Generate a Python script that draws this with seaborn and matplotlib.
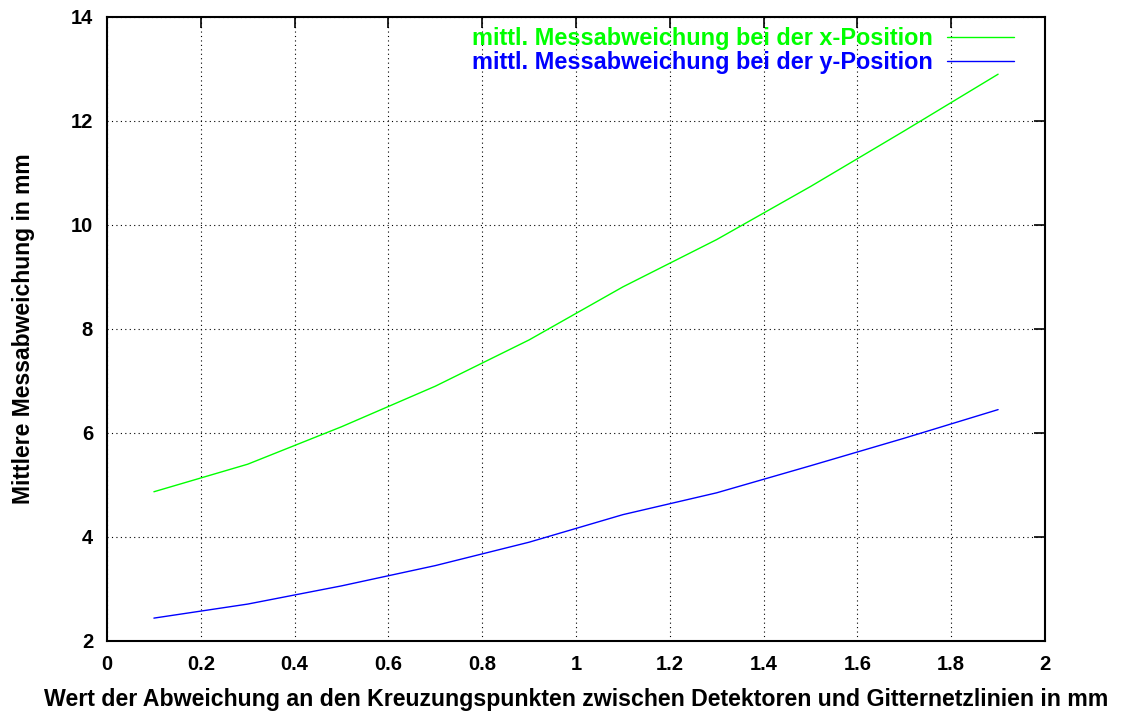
import matplotlib
matplotlib.use("Agg")
import matplotlib.pyplot as plt
import seaborn as sns
import pandas as pd

# Data
x_values = [0.1, 0.3, 0.5, 0.7, 0.9, 1.1, 1.3, 1.5, 1.7, 1.9]
x_position = [4.87, 5.40, 6.12, 6.90, 7.79, 8.81, 9.72, 10.74, 11.81, 12.90]
y_position = [2.44, 2.71, 3.06, 3.45, 3.90, 4.43, 4.85, 5.37, 5.90, 6.45]
series_names = ["mittl. Messabweichung bei der x-Position",
                "mittl. Messabweichung bei der y-Position"]
x_ticks = [0, 0.2, 0.4, 0.6, 0.8, 1, 1.2, 1.4, 1.6, 1.8, 2]
x_tick_labels = ["0", "0.2", "0.4", "0.6", "0.8", "1", "1.2", "1.4", "1.6", "1.8", "2"]
y_ticks = [2, 4, 6, 8, 10, 12, 14]
x_label = "Wert der Abweichung an den Kreuzungspunkten zwischen Detektoren und Gitternetzlinien in mm"
y_label = "Mittlere Messabweichung in mm"

sns.set_style("white")
plt.rcParams['font.family'] = ['Liberation Sans', 'DejaVu Sans']
plt.rcParams['font.weight'] = 'bold'
plt.rcParams['text.color'] = 'black'
plt.rcParams['axes.labelcolor'] = 'black'
plt.rcParams['xtick.color'] = 'black'
plt.rcParams['ytick.color'] = 'black'

df = pd.DataFrame({
    "x": x_values * 2,
    "y": x_position + y_position,
    "series": [series_names[0]] * len(x_values) + [series_names[1]] * len(x_values),
})

fig = plt.figure(figsize=(11.24, 7.13), dpi=100)
ax = fig.add_axes([107 / 1124, (713 - 641) / 713, (1045 - 107) / 1124, (641 - 17) / 713])

sns.lineplot(data=df, x="x", y="y", hue="series",
             palette={series_names[0]: "#00ff00", series_names[1]: "#0000ff"},
             linewidth=1.0, ax=ax)

ax.set_xlim(0, 2)
ax.set_ylim(2, 14)
ax.set_xticks(x_ticks)
ax.set_xticklabels(x_tick_labels)
ax.set_yticks(y_ticks)
ax.grid(True, color="black", linestyle=(0, (1, 3)), linewidth=0.8)
ax.tick_params(direction="in", length=8, width=1.2, top=True, right=True,
               labelsize=14.5, pad=10, colors="black")
for lab in ax.get_xticklabels() + ax.get_yticklabels():
    lab.set_fontweight("bold")
for sp in ax.spines.values():
    sp.set_color("black")
    sp.set_linewidth(1.5)

ax.set_xlabel(x_label, fontsize=16.7, fontweight="bold", labelpad=10, color="black")
ax.set_ylabel(y_label, fontsize=16.5, fontweight="bold", labelpad=26, color="black")

leg = ax.legend(loc="upper right", bbox_to_anchor=(0.977, 0.999), frameon=False,
                markerfirst=False, labelcolor="linecolor",
                handlelength=2.85, handletextpad=0.6, borderaxespad=0.0,
                borderpad=0.4, labelspacing=0.06,
                prop={"weight": "bold", "size": 16.9})
fig.savefig("out.png", dpi=100)
